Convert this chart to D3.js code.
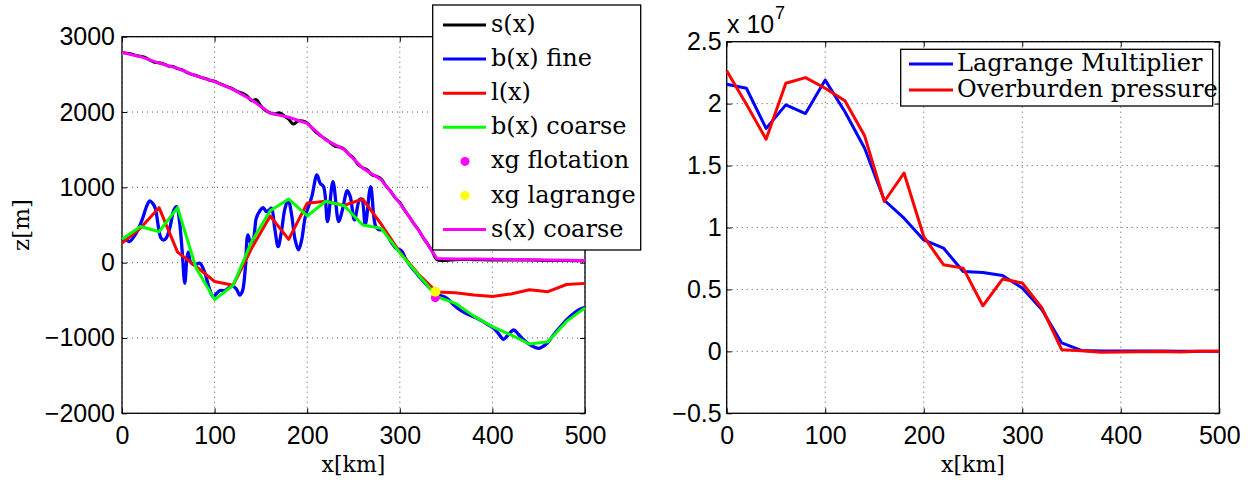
<!DOCTYPE html>
<html>
<head>
<meta charset="utf-8">
<script src="https://cdn.jsdelivr.net/npm/d3@7"></script>
<style>
  body { margin: 0; background: #fff; }
</style>
</head>
<body>
<script>
// coarse grid (km)
const xCoarse = [0,20,40,60,80,100,120,140,160,180,200,220,240,260,280,300,320,340,360,380,400,420,440,460,480,500];
const sCoarse = [2790,2735,2650,2580,2480,2405,2300,2160,1985,1930,1850,1630,1500,1255,1100,790,435,55,50,48,45,42,40,36,33,30];
const lCoarse = [260,460,730,140,-50,-250,-300,190,620,310,790,815,760,845,510,140,-150,-390,-400,-430,-450,-415,-360,-385,-290,-275];
const bCoarse = [310,480,410,730,-70,-490,-300,280,690,845,620,815,755,500,455,130,-160,-450,-540,-710,-850,-960,-1080,-1050,-780,-600];

// fine surface s(x)
const xSFine = [0,5,10,15,20,25,30,35,40,45,50,55,60,65,70,75,80,85,90,95,100,105,110,115,120,125,130,135,140,145,150,155,160,165,170,175,180,185,190,195,200,205,210,215,220,225,230,235,240,245,250,255,260,265,270,275,280,285,290,295,300,305,310,315,320,325,330,335,340,350,360,380,400,420,440,460,480,500];
const sFine = [2795,2780,2770,2750,2740,2725,2690,2660,2655,2640,2610,2605,2575,2560,2525,2500,2485,2460,2445,2420,2410,2380,2355,2330,2305,2270,2250,2215,2150,2165,2080,2020,1990,1975,1990,1950,1905,1840,1880,1880,1855,1790,1725,1680,1640,1590,1545,1535,1505,1440,1390,1300,1260,1230,1165,1145,1110,1020,950,860,800,700,615,520,440,335,250,150,40,30,40,40,35,35,35,30,30,25];

// fine bed b(x)
const xBFine = [0,5,8,12,17,22,27,30,33,36,39,42,45,48,52,56,59,62,65,67.8,70,71.5,74,78,84,89,94,98.4,102,106,111,116,120,124,127,130,133,136,139,142,145,149,152.4,156,159,161.4,165,168.6,172,176,179.5,183,187,190.6,194,198,205,210.5,214,217.7,222,227.8,234,238,243.3,246.5,251,256.6,259,262.7,268.5,273.5,277,282,287,291.5,296,300.5,303,306,310,315,320,325.7,331,336.6,340,345,351,358,365,374,383.5,392,401.4,407,412,417,423,428,434,442,450,455,459,466,473.5,480,488,494,500];
const bFine = [290,300,280,330,430,580,760,820,790,720,500,330,300,330,480,700,745,560,150,-274,40,140,10,-30,-8,-120,-330,-452,-410,-370,-370,-330,-310,-360,-430,-380,-100,368,260,320,590,690,730,677,700,722,450,212,400,720,833,650,300,169,300,611,877,1165,1054,1009,545,1076,545,700,955,877,567,838,842,500,1009,500,440,434,360,258,190,169,140,58,-20,-97,-170,-252,-320,-385,-440,-440,-473,-560,-628,-690,-738,-800,-871,-950,-1017,-960,-894,-950,-1027,-1100,-1137,-1110,-1070,-960,-850,-760,-672,-620,-592];

// grounding line positions
const xgFlotation = [338.4], zgFlotation = [-465];
const xgLagrange = [338.4], zgLagrange = [-385];

// right panel (units of 1e7)
const xPress = [0,20,40,60,80,100,120,140,160,180,200,220,240,260,280,300,320,340,360,380,400,420,440,460,480,500];
const lagMult = [2.156,2.124,1.80,1.99,1.92,2.19,1.935,1.64,1.22,1.075,0.90,0.834,0.645,0.637,0.613,0.511,0.336,0.068,0.008,0.003,0.002,0.002,0.002,0.001,0.001,0.001];
const overburden = [2.266,1.995,1.713,2.165,2.21,2.124,2.024,1.74,1.21,1.44,0.927,0.70,0.672,0.368,0.584,0.552,0.35,0.014,0.005,-0.008,-0.005,-0.003,-0.002,-0.005,0.0,0.0];

const legendLeft = ["s(x)","b(x) fine","l(x)","b(x) coarse","xg flotation","xg lagrange","s(x) coarse"];
const legendLeftColor = ["#000000","#0000ff","#ff0000","#00ff00","#ff00ff","#ffff00","#ff00ff"];
const legendLeftType = ["line","line","line","line","dot","dot","line"];
const legendRight = ["Lagrange Multiplier","Overburden pressure"];
const legendRightColor = ["#0000ff","#ff0000"];

const W = 1252, H = 482;
const tickFont = "'Liberation Sans', Arial, sans-serif";
const serif = "'DejaVu Serif', serif";

const svg = d3.select("body").append("svg")
    .attr("width", W)
    .attr("height", H);

// draws the box, grid, ticks of one panel
function panel(x, y, xTicks, yTicks, yFmt, yPad) {
  const left = x.range()[0], right = x.range()[1];
  const bottom = y.range()[0], top = y.range()[1];

  // grid
  const grid = svg.append("g");
  grid.selectAll("line.gx").data(xTicks).enter().append("line")
      .attr("x1", d => x(d)).attr("x2", d => x(d))
      .attr("y1", top).attr("y2", bottom);
  grid.selectAll("line.gy").data(yTicks).enter().append("line")
      .attr("y1", d => y(d)).attr("y2", d => y(d))
      .attr("x1", left).attr("x2", right);
  grid.selectAll("line")
      .attr("stroke", "#555")
      .attr("stroke-width", 1)
      .attr("stroke-dasharray", "1,4");

  const ax = [
    svg.append("g").attr("transform", "translate(0," + bottom + ")")
       .call(d3.axisBottom(x).tickValues(xTicks).tickSize(-5).tickPadding(13).tickFormat(d3.format("d"))),
    svg.append("g").attr("transform", "translate(" + left + ",0)")
       .call(d3.axisLeft(y).tickValues(yTicks).tickSize(-5).tickPadding(yPad).tickFormat(yFmt)),
    svg.append("g").attr("transform", "translate(0," + top + ")")
       .call(d3.axisTop(x).tickValues(xTicks).tickSize(-5).tickFormat("")),
    svg.append("g").attr("transform", "translate(" + right + ",0)")
       .call(d3.axisRight(y).tickValues(yTicks).tickSize(-5).tickFormat(""))
  ];
  ax.forEach(a => {
    a.select(".domain").remove();
    a.selectAll("line").attr("stroke", "#000").attr("stroke-width", 1);
    a.selectAll("text")
        .attr("font-family", tickFont)
        .attr("font-size", 25)
        .attr("fill", "#000");
  });
  ax[0].selectAll("text").attr("dy", "0.71em");

  return svg.append("rect")
      .attr("x", left).attr("y", top)
      .attr("width", right - left).attr("height", bottom - top)
      .attr("fill", "none")
      .attr("stroke", "#000")
      .attr("stroke-width", 1.3);
}

function drawLine(xs, ys, x, y, color, w, curve) {
  const pts = xs.map((d, i) => [d, ys[i]]);
  svg.append("path")
      .datum(pts)
      .attr("fill", "none")
      .attr("stroke", color)
      .attr("stroke-width", w)
      .attr("stroke-linejoin", "round")
      .attr("d", d3.line().curve(curve || d3.curveLinear).x(d => x(d[0])).y(d => y(d[1])));
}

// ---------- left panel ----------
const xL = d3.scaleLinear().domain([0, 500]).range([122, 585]);
const yL = d3.scaleLinear().domain([-2000, 3000]).range([413.3, 36.7]);
panel(xL, yL, [0,100,200,300,400,500], [-2000,-1000,0,1000,2000,3000], d3.format("d"), 7);

drawLine(xSFine, sFine, xL, yL, "#000000", 3, d3.curveCatmullRom);
drawLine(xBFine, bFine, xL, yL, "#0000ff", 3.3, d3.curveCatmullRom);
drawLine(xCoarse, lCoarse, xL, yL, "#ff0000", 3);
drawLine(xCoarse, bCoarse, xL, yL, "#00ff00", 3);

svg.selectAll("circle.flot").data(xgFlotation).enter().append("circle")
    .attr("cx", d => xL(d)).attr("cy", (d, i) => yL(zgFlotation[i]))
    .attr("r", 4.5).attr("fill", "#ff00ff");
svg.selectAll("circle.lag").data(xgLagrange).enter().append("circle")
    .attr("cx", d => xL(d)).attr("cy", (d, i) => yL(zgLagrange[i]))
    .attr("r", 5).attr("fill", "#ffff00");

drawLine(xCoarse, sCoarse, xL, yL, "#ff00ff", 3);

svg.append("text")
    .attr("x", (xL.range()[0] + xL.range()[1]) / 2)
    .attr("y", 472)
    .attr("text-anchor", "middle")
    .attr("font-family", serif)
    .attr("font-size", 22)
    .text("x[km]");
svg.append("text")
    .attr("transform", "translate(29,225) rotate(-90)")
    .attr("text-anchor", "middle")
    .attr("font-family", serif)
    .attr("font-size", 23)
    .text("z[m]");

// left legend
const legL = svg.append("g");
legL.append("rect")
    .attr("x", 432.7).attr("y", 5)
    .attr("width", 208).attr("height", 245)
    .attr("fill", "#fff").attr("stroke", "#000").attr("stroke-width", 1.3);
legendLeft.forEach((lab, i) => {
  const cy = 25 + i * 34.1;
  if (legendLeftType[i] === "line") {
    legL.append("line")
        .attr("x1", 443).attr("x2", 486).attr("y1", cy).attr("y2", cy)
        .attr("stroke", legendLeftColor[i]).attr("stroke-width", 3);
  } else {
    legL.append("circle")
        .attr("cx", 465).attr("cy", cy).attr("r", 4.5)
        .attr("fill", legendLeftColor[i]);
  }
  legL.append("text")
      .attr("x", 491).attr("y", cy + 7)
      .attr("font-family", serif)
      .attr("font-size", 24)
      .text(lab);
});

// ---------- right panel ----------
const xR = d3.scaleLinear().domain([0, 500]).range([726.7, 1219.3]);
const yR = d3.scaleLinear().domain([-0.5, 2.5]).range([413.3, 41.7]);
panel(xR, yR, [0,100,200,300,400,500], [-0.5,0,0.5,1,1.5,2,2.5], d3.format(""), 5);

drawLine(xPress, lagMult, xR, yR, "#0000ff", 3);
drawLine(xPress, overburden, xR, yR, "#ff0000", 3);

svg.append("text")
    .attr("x", 727).attr("y", 33)
    .attr("font-family", tickFont)
    .attr("font-size", 25)
    .text("x 10");
svg.append("text")
    .attr("x", 775).attr("y", 19)
    .attr("font-family", tickFont)
    .attr("font-size", 18)
    .text("7");

svg.append("text")
    .attr("x", (xR.range()[0] + xR.range()[1]) / 2)
    .attr("y", 472)
    .attr("text-anchor", "middle")
    .attr("font-family", serif)
    .attr("font-size", 22)
    .text("x[km]");

// right legend
const legR = svg.append("g");
legR.append("rect")
    .attr("x", 900.7).attr("y", 49.3)
    .attr("width", 312).attr("height", 56.7)
    .attr("fill", "#fff").attr("stroke", "#000").attr("stroke-width", 1.3);
legendRight.forEach((lab, i) => {
  const cy = 64 + i * 26;
  legR.append("line")
      .attr("x1", 909).attr("x2", 953).attr("y1", cy).attr("y2", cy)
      .attr("stroke", legendRightColor[i]).attr("stroke-width", 3);
  legR.append("text")
      .attr("x", 957).attr("y", cy + 7)
      .attr("font-family", serif)
      .attr("font-size", 24)
      .text(lab);
});

// minus signs as in the reference
svg.selectAll("text").each(function() {
  const t = d3.select(this);
  if (t.text().startsWith("-")) t.text("\u2212" + t.text().slice(1));
});
</script>
</body>
</html>
